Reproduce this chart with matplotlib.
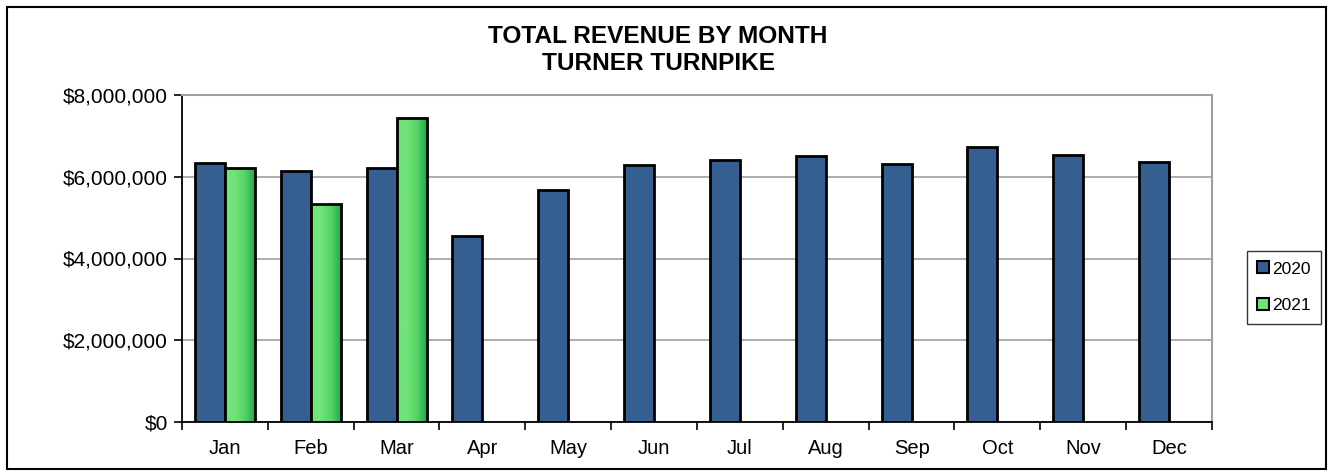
import numpy as np
import matplotlib.pyplot as plt
from matplotlib.patches import Rectangle
from matplotlib.lines import Line2D
from matplotlib.colors import LinearSegmentedColormap
from matplotlib.ticker import FuncFormatter

plt.rcParams['font.family'] = ['Liberation Sans', 'DejaVu Sans']

# --------------------------
# Data
# --------------------------
months = ['Jan', 'Feb', 'Mar', 'Apr', 'May', 'Jun',
          'Jul', 'Aug', 'Sep', 'Oct', 'Nov', 'Dec']
rev_2020 = [6340000, 6130000, 6210000, 4550000, 5670000, 6290000,
            6420000, 6510000, 6310000, 6730000, 6540000, 6350000]
rev_2021 = [6210000, 5330000, 7440000]
series_names = ['2020', '2021']

blue = '#365f91'
green_light = '#70e47a'
green_dark = '#12a84a'
grid_gray = '#a0a0a0'

# --------------------------
# Figure / axes layout
# --------------------------
fig = plt.figure(figsize=(13.34, 4.76), dpi=100)
ax = fig.add_axes([182 / 1334, 1 - 422 / 476, (1212 - 182) / 1334, (422 - 95) / 476])

x = np.arange(len(months))
width = 0.35

bars20 = ax.bar(x[:len(rev_2020)] - width / 2, rev_2020, width,
                color=blue, edgecolor='black', linewidth=2.0, zorder=3)
bars21 = ax.bar(x[:len(rev_2021)] + width / 2, rev_2021, width,
                color='none', edgecolor='black', linewidth=2.0, zorder=4)

# horizontal gradient fill for the 2021 bars
cmap = LinearSegmentedColormap.from_list(
    'grn', [green_light, green_light, '#55d066', green_dark])
grad = np.linspace(0, 1, 256).reshape(1, -1)
for bar in bars21:
    x0, y0 = bar.get_x(), bar.get_y()
    w, h = bar.get_width(), bar.get_height()
    im = ax.imshow(grad, cmap=cmap, aspect='auto', extent=[x0, x0 + w, y0, y0 + h],
                   zorder=3.5, interpolation='bilinear')
    im.set_clip_path(bar)

ax.set_xlim(-0.5, len(months) - 0.5)
ax.set_ylim(0, 8000000)

# y axis
ax.set_yticks(np.arange(0, 8000001, 2000000))
ax.yaxis.set_major_formatter(FuncFormatter(lambda v, p: f'${v:,.0f}'))
ax.yaxis.grid(True, color=grid_gray, linewidth=1.2, zorder=0)
ax.set_axisbelow(True)

# x axis: tick marks at category boundaries, labels at centres
ax.set_xticks(np.arange(-0.5, len(months), 1))
ax.set_xticklabels([])
ax.set_xticks(x, minor=True)
ax.set_xticklabels(months, minor=True)
ax.tick_params(axis='x', which='minor', length=0, pad=12, labelsize=14.5)
ax.tick_params(axis='x', which='major', length=6, width=1.2, direction='out')
ax.tick_params(axis='y', length=6, width=1.2, direction='out', labelsize=15, pad=4)

for side in ['left', 'bottom']:
    ax.spines[side].set_color('black')
    ax.spines[side].set_linewidth(1.3)
for side in ['top', 'right']:
    ax.spines[side].set_color(grid_gray)
    ax.spines[side].set_linewidth(1.5)

# title
fig.text(658 / 1334, 1 - 50 / 476, 'TOTAL REVENUE BY MONTH\nTURNER TURNPIKE',
         ha='center', va='center', fontsize=17.6, fontweight='bold', linespacing=1.25)

# legend
handles = [Line2D([], [], marker='s', linestyle='none', markersize=8.5,
                  markerfacecolor=c, markeredgecolor='black', markeredgewidth=1.5)
           for c in [blue, green_light]]
leg = fig.legend(handles, series_names, loc='upper left',
                 bbox_to_anchor=(1247 / 1334, 1 - 251 / 476),
                 fontsize=12.5, frameon=True, fancybox=False, edgecolor='black',
                 handlelength=0.7, handletextpad=0.15, labelspacing=1.25,
                 borderpad=0.6, borderaxespad=0)
leg.get_frame().set_linewidth(1.0)

# outer chart border
fig.patches.append(Rectangle((7 / 1334, 7 / 476), (1326 - 7) / 1334, (469 - 7) / 476,
                             transform=fig.transFigure, fill=False,
                             edgecolor='black', linewidth=1.5))

fig.savefig('out.png', dpi=100, facecolor='white')
